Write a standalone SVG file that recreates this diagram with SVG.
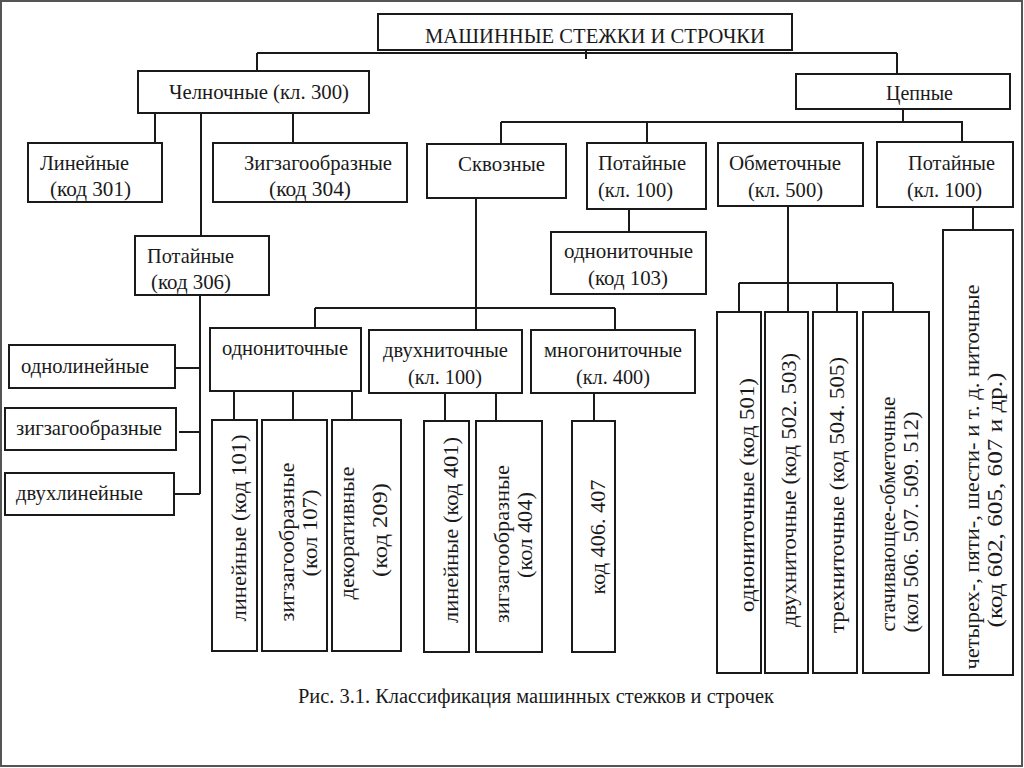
<svg xmlns="http://www.w3.org/2000/svg" width="1024" height="768" viewBox="0 0 1024 768">
<style>
.b{fill:#fff;stroke:#1a1a1a;stroke-width:2}
.c line{stroke:#1a1a1a;stroke-width:2}
text{font-family:"Liberation Serif","Times New Roman",serif;font-size:21px;fill:#1a1a1a}
.v{text-anchor:middle}
</style>
<rect x="0" y="0" width="1024" height="768" fill="#fff"/>
<rect x="1" y="1" width="1021" height="765" fill="none" stroke="#555" stroke-width="2"/>
<g class="c" id="connectors">
<line x1="586" y1="50" x2="586" y2="59"/>
<line x1="257" y1="53" x2="897" y2="53"/>
<line x1="257" y1="53" x2="257" y2="71"/>
<line x1="897" y1="53" x2="897" y2="74"/>
<line x1="155" y1="113" x2="155" y2="143"/>
<line x1="201" y1="113" x2="201" y2="236"/>
<line x1="293" y1="113" x2="293" y2="143"/>
<line x1="903" y1="109" x2="903" y2="122"/>
<line x1="501" y1="122" x2="963" y2="122"/>
<line x1="501" y1="122" x2="501" y2="144"/>
<line x1="647" y1="122" x2="647" y2="143"/>
<line x1="962" y1="122" x2="962" y2="142"/>
<line x1="200" y1="295" x2="200" y2="494"/>
<line x1="175" y1="368" x2="200" y2="368"/>
<line x1="179" y1="432" x2="200" y2="432"/>
<line x1="174" y1="494" x2="200" y2="494"/>
<line x1="476" y1="198" x2="476" y2="330"/>
<line x1="315" y1="308" x2="615" y2="308"/>
<line x1="315" y1="308" x2="315" y2="328"/>
<line x1="615" y1="308" x2="615" y2="330"/>
<line x1="629" y1="209" x2="629" y2="232"/>
<line x1="234" y1="391" x2="234" y2="420"/>
<line x1="293" y1="391" x2="293" y2="420"/>
<line x1="352" y1="391" x2="352" y2="420"/>
<line x1="445" y1="393" x2="445" y2="421"/>
<line x1="496" y1="393" x2="496" y2="421"/>
<line x1="594" y1="393" x2="594" y2="421"/>
<line x1="788" y1="206" x2="788" y2="312"/>
<line x1="739" y1="283" x2="893" y2="283"/>
<line x1="739" y1="283" x2="739" y2="312"/>
<line x1="837" y1="283" x2="837" y2="312"/>
<line x1="893" y1="283" x2="893" y2="312"/>
<line x1="973" y1="207" x2="973" y2="230"/>
</g>
<g id="root"><rect class="b" x="378" y="14" width="414" height="36"/><text x="425" y="43" style="font-size:22px" textLength="340" lengthAdjust="spacingAndGlyphs">МАШИННЫЕ СТЕЖКИ И СТРОЧКИ</text></g>
<g id="chelnochnye"><rect class="b" x="138" y="71" width="231" height="42"/><text x="169" y="99" textLength="180" lengthAdjust="spacingAndGlyphs">Челночные (кл. 300)</text></g>
<g id="tsepnye"><rect class="b" x="796" y="74" width="214" height="35"/><text x="886" y="100" textLength="67" lengthAdjust="spacingAndGlyphs">Цепные</text></g>
<g id="lineynye301"><rect class="b" x="28" y="143" width="134" height="59"/><text x="40" y="170" textLength="89" lengthAdjust="spacingAndGlyphs">Линейные</text><text x="50" y="196" textLength="81" lengthAdjust="spacingAndGlyphs">(код 301)</text></g>
<g id="zigzag304"><rect class="b" x="213" y="143" width="194" height="59"/><text x="244" y="170" textLength="148" lengthAdjust="spacingAndGlyphs">Зигзагообразные</text><text x="269" y="196" textLength="82" lengthAdjust="spacingAndGlyphs">(код 304)</text></g>
<g id="skvoznye"><rect class="b" x="427" y="144" width="139" height="54"/><text x="458" y="171" textLength="87" lengthAdjust="spacingAndGlyphs">Сквозные</text></g>
<g id="potaynye100a"><rect class="b" x="587" y="143" width="119" height="66"/><text x="598" y="170" textLength="88" lengthAdjust="spacingAndGlyphs">Потайные</text><text x="598" y="197" textLength="75" lengthAdjust="spacingAndGlyphs">(кл. 100)</text></g>
<g id="obmetochnye"><rect class="b" x="718" y="143" width="145" height="63"/><text x="729" y="170" textLength="112" lengthAdjust="spacingAndGlyphs">Обметочные</text><text x="748" y="197" textLength="75" lengthAdjust="spacingAndGlyphs">(кл. 500)</text></g>
<g id="potaynye100b"><rect class="b" x="877" y="142" width="136" height="65"/><text x="908" y="170" textLength="87" lengthAdjust="spacingAndGlyphs">Потайные</text><text x="907" y="197" textLength="75" lengthAdjust="spacingAndGlyphs">(кл. 100)</text></g>
<g id="potaynye306"><rect class="b" x="135" y="236" width="134" height="59"/><text x="147" y="263" textLength="87" lengthAdjust="spacingAndGlyphs">Потайные</text><text x="151" y="289" textLength="80" lengthAdjust="spacingAndGlyphs">(код 306)</text></g>
<g id="odnonit103"><rect class="b" x="551" y="232" width="155" height="62"/><text x="564" y="258" textLength="129" lengthAdjust="spacingAndGlyphs">однониточные</text><text x="588" y="285" textLength="80" lengthAdjust="spacingAndGlyphs">(код 103)</text></g>
<g id="odnolineynye"><rect class="b" x="9" y="345" width="166" height="43"/><text x="21" y="373" textLength="128" lengthAdjust="spacingAndGlyphs">однолинейные</text></g>
<g id="zigzagLeft"><rect class="b" x="5" y="408" width="171" height="42"/><text x="16" y="435" textLength="146" lengthAdjust="spacingAndGlyphs">зигзагообразные</text></g>
<g id="dvukhlineynye"><rect class="b" x="5" y="473" width="169" height="42"/><text x="16" y="500" textLength="127" lengthAdjust="spacingAndGlyphs">двухлинейные</text></g>
<g id="odnonitochnye"><rect class="b" x="210" y="328" width="151" height="63"/><text x="222" y="355" textLength="126" lengthAdjust="spacingAndGlyphs">однониточные</text></g>
<g id="dvukhnitochnye"><rect class="b" x="369" y="330" width="153" height="63"/><text x="383" y="357" textLength="125" lengthAdjust="spacingAndGlyphs">двухниточные</text><text x="408" y="384" textLength="74" lengthAdjust="spacingAndGlyphs">(кл. 100)</text></g>
<g id="mnogonitochnye"><rect class="b" x="531" y="330" width="164" height="63"/><text x="544" y="357" textLength="138" lengthAdjust="spacingAndGlyphs">многониточные</text><text x="576" y="384" textLength="74" lengthAdjust="spacingAndGlyphs">(кл. 400)</text></g>
<g id="lin101"><rect class="b" x="212" y="420" width="45" height="231"/><text class="v" x="246" y="528" transform="rotate(-90 246 528)" textLength="187" lengthAdjust="spacingAndGlyphs">линейные (код 101)</text></g>
<g id="zig107"><rect class="b" x="262" y="420" width="65" height="231"/><text class="v" x="294" y="542" transform="rotate(-90 294 542)" textLength="159" lengthAdjust="spacingAndGlyphs">зигзагообразные</text><text class="v" x="317" y="533" transform="rotate(-90 317 533)" textLength="87" lengthAdjust="spacingAndGlyphs">(кол 107)</text></g>
<g id="dek209"><rect class="b" x="332" y="420" width="69" height="231"/><text class="v" x="354" y="533" transform="rotate(-90 354 533)" textLength="133" lengthAdjust="spacingAndGlyphs">декоративные</text><text class="v" x="387" y="530" transform="rotate(-90 387 530)" textLength="94" lengthAdjust="spacingAndGlyphs">(код 209)</text></g>
<g id="lin401"><rect class="b" x="424" y="421" width="45" height="231"/><text class="v" x="458" y="530" transform="rotate(-90 458 530)" textLength="186" lengthAdjust="spacingAndGlyphs">линейные (код 401)</text></g>
<g id="zig404"><rect class="b" x="476" y="421" width="66" height="231"/><text class="v" x="509" y="544" transform="rotate(-90 509 544)" textLength="158" lengthAdjust="spacingAndGlyphs">зигзагообразные</text><text class="v" x="532" y="535" transform="rotate(-90 532 535)" textLength="86" lengthAdjust="spacingAndGlyphs">(кол 404)</text></g>
<g id="kod406"><rect class="b" x="572" y="421" width="43" height="231"/><text class="v" x="605" y="537" transform="rotate(-90 605 537)" textLength="115" lengthAdjust="spacingAndGlyphs">код 406. 407</text></g>
<g id="odn501"><rect class="b" x="717" y="312" width="44" height="361"/><text class="v" x="754" y="495" transform="rotate(-90 754 495)" textLength="234" lengthAdjust="spacingAndGlyphs">однониточные (код 501)</text></g>
<g id="dvukh502"><rect class="b" x="765" y="312" width="43" height="361"/><text class="v" x="796" y="490" transform="rotate(-90 796 490)" textLength="274" lengthAdjust="spacingAndGlyphs">двухниточные (код 502. 503)</text></g>
<g id="trekh504"><rect class="b" x="813" y="312" width="44" height="361"/><text class="v" x="844" y="495" transform="rotate(-90 844 495)" textLength="276" lengthAdjust="spacingAndGlyphs">трехниточные (код 504. 505)</text></g>
<g id="stach506"><rect class="b" x="863" y="312" width="66" height="361"/><text class="v" x="895" y="514" transform="rotate(-90 895 514)" textLength="235" lengthAdjust="spacingAndGlyphs">стачивающее-обметочные</text><text class="v" x="918" y="522" transform="rotate(-90 918 522)" textLength="221" lengthAdjust="spacingAndGlyphs">(кол 506. 507. 509. 512)</text></g>
<g id="chetyrekh"><rect class="b" x="943" y="230" width="70" height="445"/><text class="v" x="979" y="477" transform="rotate(-90 979 477)" textLength="385" lengthAdjust="spacingAndGlyphs">четырех-, пяти-, шести- и т. д. ниточные</text><text class="v" x="1002" y="500" transform="rotate(-90 1002 500)" textLength="255" lengthAdjust="spacingAndGlyphs">(код 602, 605, 607 и др.)</text></g>
<text x="298" y="703" style="font-size:20px" textLength="476" lengthAdjust="spacingAndGlyphs">Рис. 3.1. Классификация машинных стежков и строчек</text>
</svg>
